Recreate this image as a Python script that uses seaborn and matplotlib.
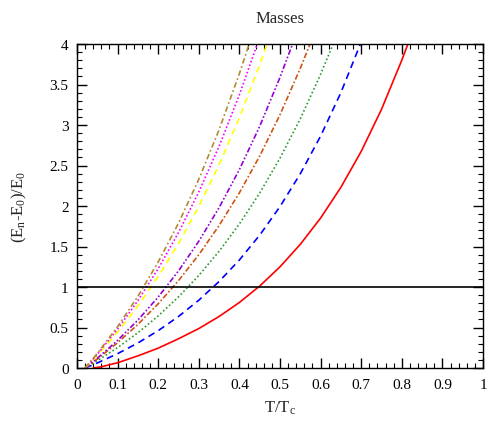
import matplotlib
matplotlib.use("Agg")
import matplotlib.pyplot as plt
import seaborn as sns
import pandas as pd
from matplotlib.ticker import MultipleLocator, FuncFormatter

# ---- data (x = T/Tc, y = (En-E0)/E0) ----
red_x = [0.04, 0.06, 0.10, 0.15, 0.20, 0.25, 0.30, 0.35, 0.40, 0.45, 0.50, 0.55, 0.60, 0.65, 0.70, 0.75, 0.80, 0.815]
red_y = [0.0, 0.015, 0.065, 0.15, 0.245, 0.361, 0.487, 0.636, 0.809, 1.012, 1.249, 1.527, 1.851, 2.231, 2.674, 3.193, 3.80, 4.0]

blue_x = [0.02, 0.05, 0.10, 0.15, 0.20, 0.25, 0.30, 0.35, 0.40, 0.45, 0.50, 0.55, 0.60, 0.65, 0.698]
blue_y = [0.0, 0.062, 0.177, 0.309, 0.461, 0.636, 0.837, 1.068, 1.334, 1.640, 1.993, 2.398, 2.863, 3.400, 4.0]

green_x = [0.02, 0.05, 0.10, 0.15, 0.20, 0.25, 0.30, 0.35, 0.40, 0.45, 0.50, 0.55, 0.60, 0.631]
green_y = [0.0, 0.089, 0.252, 0.435, 0.643, 0.878, 1.142, 1.441, 1.779, 2.160, 2.591, 3.077, 3.626, 4.0]

orange_x = [0.02, 0.05, 0.10, 0.15, 0.20, 0.25, 0.30, 0.35, 0.40, 0.45, 0.50, 0.55, 0.574]
orange_y = [0.0, 0.110, 0.312, 0.538, 0.793, 1.078, 1.399, 1.759, 2.163, 2.617, 3.127, 3.700, 4.0]

purple_x = [0.02, 0.05, 0.10, 0.15, 0.20, 0.25, 0.30, 0.35, 0.40, 0.45, 0.50, 0.531]
purple_y = [0.0, 0.120, 0.341, 0.592, 0.876, 1.199, 1.565, 1.980, 2.450, 2.984, 3.589, 4.0]

yellow_x = [0.02, 0.05, 0.10, 0.15, 0.20, 0.25, 0.30, 0.35, 0.40, 0.45, 0.468]
yellow_y = [0.0, 0.156, 0.443, 0.766, 1.128, 1.536, 1.995, 2.511, 3.091, 3.744, 4.0]

magenta_x = [0.02, 0.05, 0.10, 0.15, 0.20, 0.25, 0.30, 0.35, 0.40, 0.444]
magenta_y = [0.0, 0.170, 0.481, 0.832, 1.227, 1.672, 2.173, 2.738, 3.373, 4.0]

olive_x = [0.02, 0.05, 0.10, 0.15, 0.20, 0.25, 0.30, 0.35, 0.40, 0.424]
olive_y = [0.0, 0.180, 0.511, 0.885, 1.309, 1.788, 2.330, 2.942, 3.635, 4.0]

ref_level = 1.0

sns.set_theme(style="ticks")
plt.rcParams["font.family"] = ["Liberation Serif", "DejaVu Serif"]
plt.rcParams["mathtext.fontset"] = "custom"
plt.rcParams["mathtext.rm"] = "Liberation Serif"
plt.rcParams["mathtext.it"] = "Liberation Serif"
plt.rcParams["lines.scale_dashes"] = False

fig = plt.figure(figsize=(4.87, 4.27), dpi=100)
ax = fig.add_axes([77 / 487, 1 - 369 / 427, 406 / 487, 324 / 427])

series = [
    (red_x, red_y, "#ff0000", "-"),
    (blue_x, blue_y, "#0000ff", (0, (5, 3.5))),
    (green_x, green_y, "#2e9a2e", (0, (1.2, 1.7))),
    (orange_x, orange_y, "#cc5515", (0, (4, 1.6, 1.2, 1.6))),
    (purple_x, purple_y, "#9400d3", (0, (4, 1.5, 1.2, 1.5, 1.2, 1.5))),
    (yellow_x, yellow_y, "#ffff00", (0, (4.5, 3.5))),
    (magenta_x, magenta_y, "#ff00ff", (0, (1.2, 1.6))),
    (olive_x, olive_y, "#b08a30", (0, (4, 2, 1.2, 2))),
]
for xs, ys, col, ls in series:
    df = pd.DataFrame({"x": xs, "y": ys})
    sns.lineplot(data=df, x="x", y="y", color=col, linestyle=ls, lw=1.2, ax=ax, sort=False, estimator=None)

ax.axhline(ref_level, color="black", lw=1.2)

ax.set_xlim(0, 1)
ax.set_ylim(0, 4)
ax.xaxis.set_major_locator(MultipleLocator(0.1))
ax.xaxis.set_minor_locator(MultipleLocator(0.02))
ax.yaxis.set_major_locator(MultipleLocator(0.5))
ax.yaxis.set_minor_locator(MultipleLocator(0.1))
fmt = FuncFormatter(lambda v, p: ("%.1f" % v).rstrip("0").rstrip("."))
ax.xaxis.set_major_formatter(fmt)
ax.yaxis.set_major_formatter(fmt)
ax.tick_params(which="both", direction="in", top=True, right=True, colors="black", labelsize=11)
ax.tick_params(which="major", length=7, width=1)
ax.tick_params(which="minor", length=3.5, width=0.8)
ax.tick_params(axis="x", pad=7)
ax.tick_params(axis="y", pad=6)
for s in ax.spines.values():
    s.set_color("black")
    s.set_linewidth(1.0)

ax.set_xlabel(r"T/T$_\mathrm{c}$", fontsize=12, labelpad=6)
ax.set_ylabel(r"(E$_\mathrm{n}$-E$_0$)/E$_0$", fontsize=12, labelpad=15)
ax.set_title("Masses", fontsize=12, pad=16)

fig.savefig("out.png", dpi=100)
